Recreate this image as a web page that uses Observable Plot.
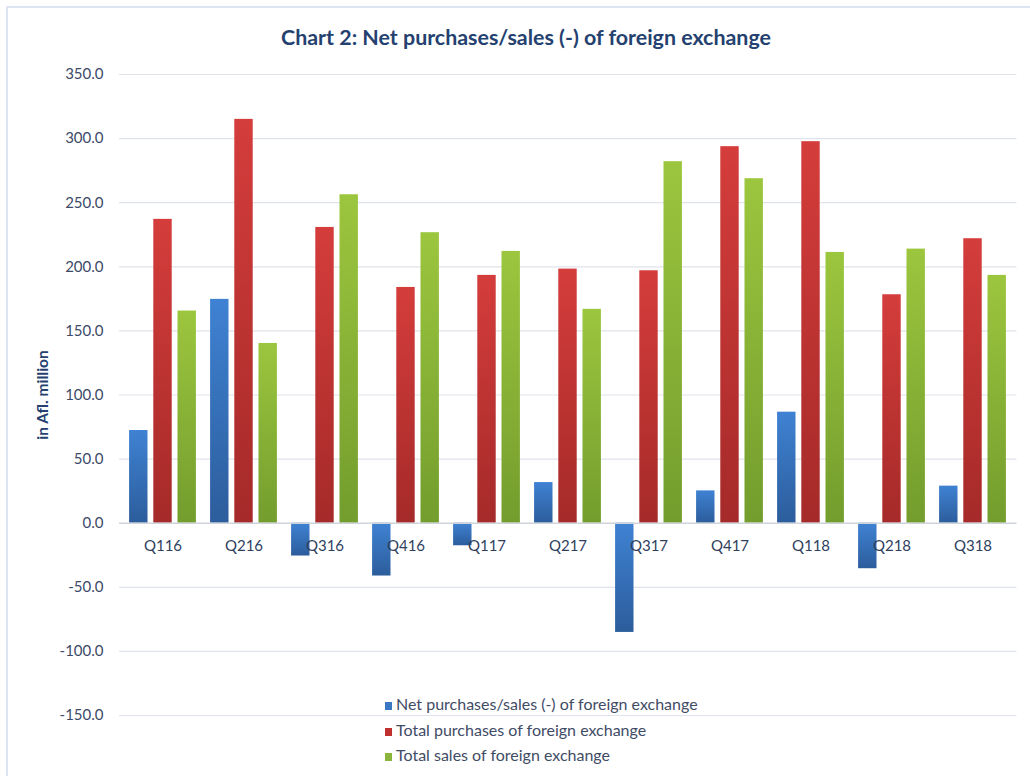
<!DOCTYPE html>
<html>
<head>
<meta charset="utf-8">
<script src="https://cdn.jsdelivr.net/npm/d3@7"></script>
<script src="https://cdn.jsdelivr.net/npm/@observablehq/plot@0.6"></script>
<style>
  html, body { margin: 0; padding: 0; background: #fff; }
  #wrap { position: relative; width: 1030px; height: 776px; overflow: hidden; font-family: Lato, "Open Sans", sans-serif; }
  #frame { position: absolute; left: 6px; top: 6px; width: 1040px; height: 800px; border-left: 2px solid #dce5f1; border-top: 2px solid #dce5f1; box-sizing: border-box; }
  #title { position: absolute; left: 11px; width: 1030px; top: 24px; text-align: center; font-size: 21.4px; font-weight: bold; color: #24416f; }
  #chart { position: absolute; left: 0; top: 0; }
  #legend { position: absolute; left: 385px; top: 691px; font-size: 16px; color: #3f4c66; line-height: 25.5px; }
  #legend .sw { display: inline-block; width: 7px; height: 8px; margin-right: 4px; vertical-align: 0px; }
</style>
</head>
<body>
<div id="wrap">
  <div id="frame"></div>
  <div id="chart"></div>
  <div id="title">Chart 2: Net purchases/sales (-) of foreign exchange</div>
  <div id="legend"></div>
</div>
<script>
const quarters = ["Q116","Q216","Q316","Q416","Q117","Q217","Q317","Q417","Q118","Q218","Q318"];
const seriesNames = [
  "Net purchases/sales (-) of foreign exchange",
  "Total purchases of foreign exchange",
  "Total sales of foreign exchange"
];
const netValues = [72.3, 174.6, -25.6, -41.2, -17.6, 31.7, -85.2, 25.2, 86.6, -35.5, 28.9];
const purchaseValues = [237.0, 315.0, 230.7, 183.9, 193.3, 198.2, 196.9, 293.7, 297.6, 178.2, 221.9];
const salesValues = [165.5, 140.2, 256.2, 226.6, 212.0, 166.8, 282.0, 268.7, 211.2, 213.8, 193.3];
const yTicks = [-150, -100, -50, 0, 50, 100, 150, 200, 250, 300, 350];
const gradIds = ["gBlue", "gRed", "gGreen"];
const gradStops = [["#3f82d3", "#2c5d9c"], ["#d43d3b", "#a52a29"], ["#9cc63e", "#739d2d"]];
const swatchColors = ["#3a78c4", "#c0302f", "#8ab43a"];

const allValues = [netValues, purchaseValues, salesValues];
const rows = [];
seriesNames.forEach((s, si) => {
  quarters.forEach((q, qi) => rows.push({quarter: q, series: s, si, value: allValues[si][qi]}));
});

const W = 1030, mL = 119, mR = 13.5;
const step = (W - mL - mR) / quarters.length;
const barW = 19, barGap = 24.2;
const inset = (step - barW) / 2;

const barMarks = seriesNames.map((s, si) =>
  Plot.barY(rows.filter(d => d.si === si), {
    x: "quarter", y: "value", fill: `url(#${gradIds[si]})`,
    insetLeft: inset, insetRight: inset, dx: (si - 1) * barGap
  })
);

const chart = Plot.plot({
  width: W,
  height: 776,
  marginTop: 74,
  marginBottom: 61,
  marginLeft: mL,
  marginRight: mR,
  style: {fontFamily: "Lato, 'Open Sans', sans-serif", background: "transparent"},
  x: {domain: quarters, padding: 0, axis: null},
  y: {domain: [-150, 350], axis: null},
  marks: [
    Plot.ruleY(yTicks.filter(t => t !== 0), {stroke: "#dfe4ec", strokeWidth: 1.2}),
    Plot.text(yTicks, {y: d => d, frameAnchor: "left", dx: -16, textAnchor: "end",
      text: d => d.toFixed(1), fill: "#3b4a68", fontSize: 15}),
    ...barMarks,
    Plot.ruleY([0], {stroke: "#cfd3da", strokeWidth: 1.5}),
    Plot.text(quarters, {x: d => d, y: () => 0, dy: 23,
      text: d => d, fill: "#2f3f5e", fontSize: 15}),
    Plot.text(["in Afl. million"], {frameAnchor: "left", dx: -76, rotate: -90, textAnchor: "middle",
      text: d => d, fill: "#24416f", fontSize: 15.5, fontWeight: "bold"})
  ]
});

const svgNS = "http://www.w3.org/2000/svg";
const defs = document.createElementNS(svgNS, "defs");
gradIds.forEach((id, i) => {
  const g = document.createElementNS(svgNS, "linearGradient");
  g.setAttribute("id", id);
  g.setAttribute("x1", "0"); g.setAttribute("y1", "0");
  g.setAttribute("x2", "0"); g.setAttribute("y2", "1");
  [[0, gradStops[i][0]], [1, gradStops[i][1]]].forEach(([o, c]) => {
    const st = document.createElementNS(svgNS, "stop");
    st.setAttribute("offset", o);
    st.setAttribute("stop-color", c);
    g.appendChild(st);
  });
  defs.appendChild(g);
});
chart.insertBefore(defs, chart.firstChild);
document.getElementById("chart").appendChild(chart);

const legend = document.getElementById("legend");
seriesNames.forEach((s, i) => {
  const row = document.createElement("div");
  const sw = document.createElement("span");
  sw.className = "sw";
  sw.style.background = swatchColors[i];
  row.appendChild(sw);
  row.appendChild(document.createTextNode(s));
  legend.appendChild(row);
});
</script>
</body>
</html>
